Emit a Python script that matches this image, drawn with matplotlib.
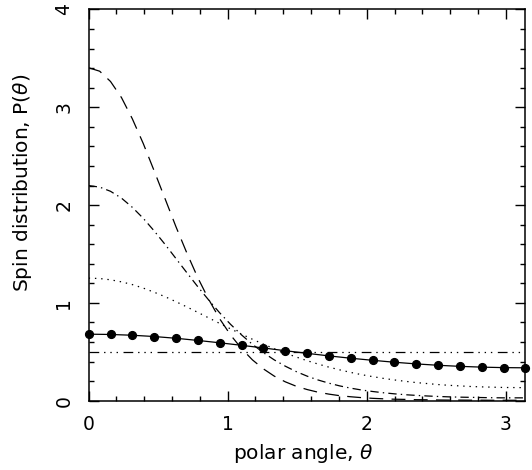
import numpy as np
import matplotlib.pyplot as plt
from matplotlib.ticker import MultipleLocator

# polar angle samples (0 .. pi), coarse grid carries the dots
theta = [0.000, 0.157, 0.314, 0.471, 0.628, 0.785, 0.942, 1.100, 1.257, 1.414,
         1.571, 1.728, 1.885, 2.042, 2.199, 2.356, 2.513, 2.670, 2.827, 2.985, 3.142]
# finer grid for the steep curves
theta_fine = [0.000, 0.079, 0.157, 0.236, 0.314, 0.393, 0.471, 0.550, 0.628, 0.707,
              0.785, 0.864, 0.942, 1.021, 1.100, 1.178, 1.257, 1.335, 1.414, 1.492,
              1.571, 1.649, 1.728, 1.806, 1.885, 1.963, 2.042, 2.120, 2.199, 2.277,
              2.356, 2.435, 2.513, 2.592, 2.670, 2.749, 2.827, 2.906, 2.985, 3.063, 3.142]

# P(theta)
p_flat = [0.5] * len(theta)
p_weak = [0.680, 0.677, 0.669, 0.656, 0.638, 0.616, 0.592, 0.566, 0.539, 0.511,
          0.484, 0.458, 0.434, 0.413, 0.393, 0.376, 0.362, 0.351, 0.343, 0.338, 0.336]
p_mid = [1.253, 1.249, 1.236, 1.215, 1.187, 1.151, 1.109, 1.063, 1.012, 0.958,
         0.903, 0.846, 0.790, 0.734, 0.680, 0.628, 0.578, 0.531, 0.487, 0.447,
         0.409, 0.375, 0.343, 0.315, 0.289, 0.266, 0.246, 0.228, 0.212, 0.198,
         0.185, 0.175, 0.165, 0.157, 0.151, 0.145, 0.141, 0.138, 0.135, 0.134, 0.133]
p_strong = [2.199, 2.184, 2.141, 2.071, 1.977, 1.864, 1.736, 1.597, 1.453, 1.307,
            1.165, 1.028, 0.899, 0.780, 0.672, 0.576, 0.491, 0.417, 0.353, 0.298,
            0.251, 0.212, 0.179, 0.151, 0.128, 0.109, 0.094, 0.081, 0.070, 0.061,
            0.054, 0.048, 0.043, 0.039, 0.036, 0.034, 0.032, 0.030, 0.029, 0.029, 0.029]
p_vstrong = [3.404, 3.369, 3.264, 3.099, 2.882, 2.628, 2.350, 2.063, 1.778, 1.507,
             1.257, 1.034, 0.838, 0.671, 0.532, 0.417, 0.325, 0.251, 0.193, 0.148,
             0.114, 0.087, 0.067, 0.051, 0.040, 0.031, 0.024, 0.019, 0.015, 0.013,
             0.010, 0.009, 0.007, 0.006, 0.006, 0.005, 0.005, 0.004, 0.004, 0.004, 0.004]

plt.rcParams["lines.scale_dashes"] = False
plt.rcParams["font.family"] = "DejaVu Sans"

fig = plt.figure(figsize=(5.32, 4.70), dpi=100)
ax = fig.add_axes([0.1667, 0.1475, 0.8209, 0.8323])

lw = 0.9
ax.plot(theta, p_flat, color="black", lw=lw,
        linestyle=(0, (7, 3.5, 1, 3.5, 1, 3.5, 1, 4)))
ax.plot(theta, p_weak, color="black", lw=lw, marker="o", ms=5.6,
        clip_on=False, zorder=3)
ax.plot(theta_fine, p_mid, color="black", lw=lw, linestyle=(0, (1, 3.5)))
ax.plot(theta_fine, p_strong, color="black", lw=lw, linestyle=(0, (6, 3, 1, 3)))
ax.plot(theta_fine, p_vstrong, color="black", lw=lw, linestyle=(0, (10, 6)))

ax.set_xlim(0, np.pi)
ax.set_ylim(0, 4)

ax.xaxis.set_major_locator(MultipleLocator(1))
ax.xaxis.set_minor_locator(MultipleLocator(0.2))
ax.yaxis.set_major_locator(MultipleLocator(1))
ax.yaxis.set_minor_locator(MultipleLocator(0.2))

ax.tick_params(which="both", direction="in", top=True, right=True, width=1.0)
ax.tick_params(which="major", length=7)
ax.tick_params(which="minor", length=3.5)
ax.tick_params(axis="x", labelsize=13.5, pad=10)
ax.tick_params(axis="y", labelsize=13.5, pad=11)
for lab in ax.get_yticklabels():
    lab.set_rotation(90)
    lab.set_va("center")

for s in ax.spines.values():
    s.set_linewidth(1.1)

ax.set_xlabel(r"polar angle, $\theta$", fontsize=14.5)
ax.set_ylabel(r"Spin distribution, P($\theta$)", fontsize=14.5)
ax.xaxis.set_label_coords(0.49, -0.105)
ax.yaxis.set_label_coords(-0.125, 0.556)

fig.savefig("out.png", dpi=100)
